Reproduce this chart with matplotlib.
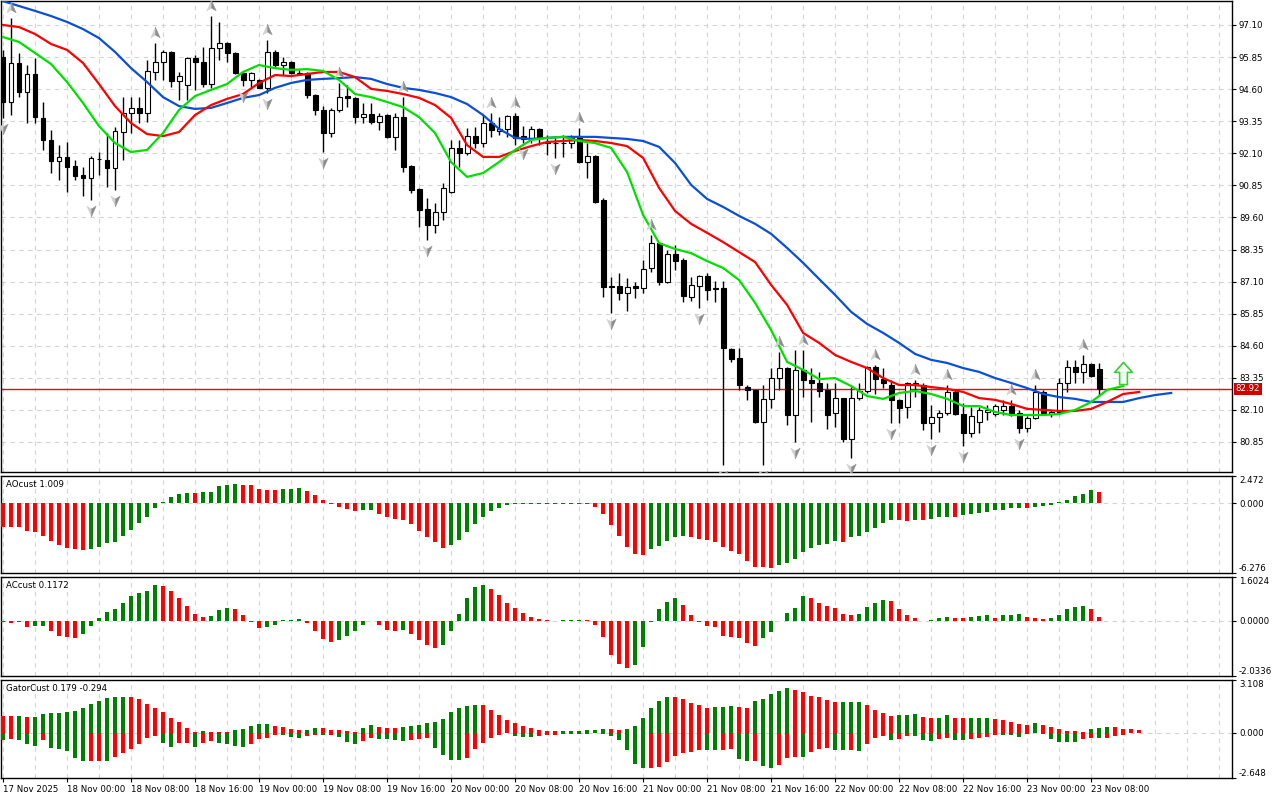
import matplotlib
matplotlib.use('agg')
import numpy as np
import matplotlib.pyplot as plt
from matplotlib.path import Path
from matplotlib.transforms import offset_copy

# H1 свечи (O, H, L, C)
opens = [95.85, 94.10, 95.62, 94.49, 95.19, 93.48, 92.62, 91.80, 91.96, 91.61,
         91.25, 91.14, 91.86, 91.84, 91.53, 92.93, 93.67, 93.87, 93.67, 95.27,
         95.66, 96.05, 94.92, 94.76, 95.81, 95.66, 94.80, 96.20, 96.40, 96.01,
         95.23, 94.96, 94.96, 94.65, 96.05, 95.54, 95.66, 95.19, 95.23, 94.37,
         93.79, 92.89, 93.79, 94.33, 94.26, 93.51, 93.63, 93.32, 93.59, 92.74,
         93.51, 91.61, 90.71, 89.93, 89.31, 89.81, 90.59, 92.31, 92.11, 92.77,
         92.50, 93.28, 92.97, 93.05, 93.55, 92.77, 92.70, 93.05, 92.54, 92.50,
         92.50, 92.50, 92.70, 91.76, 91.99, 90.28, 86.93, 86.93, 86.66, 86.93,
         86.85, 87.63, 88.60, 87.08, 88.18, 87.94, 86.50, 86.93, 87.32, 86.85,
         86.85, 84.47, 84.12, 82.99, 82.88, 81.63, 82.53, 83.34, 83.73, 81.90,
         83.66, 83.27, 83.15, 82.88, 81.98, 82.56, 80.97, 82.56, 82.84, 83.77,
         83.30, 83.07, 82.49, 82.21, 83.07, 83.07, 81.59, 81.82, 81.98, 82.80,
         81.94, 81.20, 81.63, 82.02, 81.94, 82.10, 82.25, 81.98, 81.40, 81.79,
         82.80, 81.94, 82.02, 83.15, 83.77, 83.58, 83.89, 83.70]
highs = [96.13, 97.37, 96.01, 95.54, 95.81, 94.10, 93.01, 92.42, 92.54, 91.84,
         91.57, 92.00, 92.15, 92.89, 93.13, 94.29, 94.29, 94.29, 95.74, 96.40,
         96.13, 96.09, 95.27, 95.85, 95.93, 96.24, 97.45, 97.22, 96.44, 96.05,
         95.27, 95.27, 95.00, 96.52, 96.13, 95.85, 95.70, 95.35, 95.27, 94.41,
         93.94, 93.87, 94.84, 94.76, 94.30, 94.06, 94.06, 93.67, 93.62, 93.67,
         94.29, 91.64, 90.74, 90.36, 90.16, 90.94, 92.62, 92.62, 93.09, 93.13,
         93.59, 93.67, 93.51, 93.59, 93.67, 93.16, 93.16, 93.08, 92.81, 92.70,
         92.81, 92.81, 93.09, 92.50, 92.03, 90.36, 87.28, 87.44, 87.24, 87.09,
         87.94, 88.92, 88.64, 88.33, 88.53, 88.02, 87.28, 87.36, 87.44, 87.12,
         87.12, 84.50, 84.51, 83.07, 82.90, 83.07, 83.73, 84.36, 83.76, 84.43,
         84.43, 83.73, 83.58, 83.15, 83.15, 82.58, 82.99, 83.15, 83.81, 83.85,
         83.73, 83.27, 82.51, 83.19, 83.27, 83.15, 82.29, 82.10, 83.07, 82.92,
         82.37, 82.21, 82.21, 82.29, 82.33, 82.49, 82.49, 82.10, 81.86, 83.07,
         82.88, 82.10, 83.34, 84.05, 84.05, 84.24, 83.93, 83.93]
lows = [93.48, 93.60, 94.29, 93.28, 93.28, 92.23, 91.33, 91.06, 90.59, 91.06,
        90.44, 90.28, 91.25, 90.79, 90.67, 91.84, 92.89, 93.28, 93.32, 94.96,
        94.96, 94.68, 94.18, 94.18, 94.57, 94.68, 94.65, 95.74, 95.66, 95.19,
        94.72, 94.68, 94.65, 94.45, 95.46, 95.15, 95.19, 95.15, 94.26, 93.60,
        92.15, 92.74, 93.71, 93.90, 93.28, 93.28, 93.24, 93.01, 92.70, 92.23,
        91.37, 90.55, 89.23, 88.72, 88.99, 89.50, 90.55, 91.57, 92.03, 92.31,
        92.35, 92.74, 92.81, 92.74, 92.42, 92.50, 92.50, 92.42, 92.03, 91.92,
        91.96, 92.31, 91.72, 91.14, 90.16, 86.50, 85.88, 86.38, 85.95, 86.46,
        86.66, 87.47, 86.97, 87.05, 87.55, 86.31, 86.34, 86.07, 86.38, 86.31,
        79.95, 83.97, 82.88, 82.49, 81.59, 79.95, 82.17, 82.88, 81.51, 80.85,
        82.60, 81.63, 82.60, 81.36, 81.43, 80.85, 80.23, 82.49, 82.76, 82.72,
        82.95, 81.59, 81.59, 81.78, 82.60, 81.32, 80.97, 81.24, 81.90, 81.90,
        80.69, 81.05, 81.20, 81.71, 81.86, 81.90, 81.86, 81.20, 81.24, 81.76,
        81.90, 81.82, 81.94, 82.80, 83.15, 83.15, 83.38, 82.66]
closes = [94.10, 95.62, 94.49, 95.19, 93.51, 92.62, 91.80, 91.96, 91.57, 91.22,
          91.14, 91.92, 91.88, 91.53, 92.97, 93.67, 93.87, 93.67, 95.31, 95.66,
          96.05, 94.92, 95.11, 95.81, 95.66, 94.80, 96.20, 96.40, 96.01, 95.23,
          94.96, 95.23, 94.65, 96.05, 95.54, 95.66, 95.23, 95.23, 94.37, 93.79,
          92.89, 93.79, 94.29, 94.26, 93.51, 93.63, 93.32, 93.55, 92.74, 93.51,
          91.57, 90.67, 89.89, 89.31, 89.81, 90.75, 92.31, 92.11, 92.77, 92.50,
          93.28, 93.01, 93.05, 93.55, 92.70, 92.66, 93.05, 92.74, 92.50, 92.50,
          92.52, 92.70, 91.76, 91.99, 90.20, 86.89, 86.89, 86.66, 86.89, 86.85,
          87.59, 88.60, 87.08, 88.18, 87.90, 86.54, 86.97, 87.32, 86.77, 86.81,
          84.51, 84.08, 83.07, 82.88, 81.63, 82.53, 83.34, 83.73, 81.90, 83.66,
          83.27, 83.15, 82.84, 81.90, 82.56, 80.97, 82.56, 82.84, 83.77, 83.30,
          83.15, 82.49, 82.17, 83.15, 83.15, 81.59, 81.82, 81.98, 82.80, 81.94,
          81.20, 81.86, 82.10, 82.10, 82.25, 82.25, 81.90, 81.40, 81.79, 82.80,
          81.98, 82.02, 83.15, 83.77, 83.58, 83.89, 83.42, 82.92]
last_price = 82.92

# Alligator (значения через каждые 2 бара)
line_step = 2
jaw = [98.03, 97.84, 97.65, 97.45, 97.22, 96.94, 96.59, 96.05, 95.42, 94.88,
       94.29, 93.94, 93.83, 93.87, 94.06, 94.26, 94.37, 94.65, 94.84, 94.96,
       95.00, 95.03, 95.07, 95.00, 94.80, 94.65, 94.57, 94.45, 94.29, 94.02,
       93.59, 93.05, 92.70, 92.66, 92.70, 92.74, 92.74, 92.74, 92.70, 92.66,
       92.58, 92.35, 91.72, 90.87, 90.32, 90.01, 89.66, 89.35, 88.96, 88.41,
       87.83, 87.20, 86.58, 85.92, 85.45, 85.10, 84.71, 84.28, 84.05, 83.93,
       83.73, 83.58, 83.34, 83.15, 82.95, 82.72, 82.60, 82.53, 82.41, 82.41,
       82.41, 82.56, 82.68, 82.76]
teeth = [97.10, 97.02, 96.75, 96.36, 96.13, 95.62, 94.80, 93.94, 93.28, 92.85,
         92.77, 92.93, 93.59, 93.98, 94.22, 94.41, 94.84, 95.15, 95.11, 95.19,
         95.27, 95.27, 95.07, 94.61, 94.53, 94.41, 94.26, 93.98, 93.48, 92.42,
         91.96, 91.96, 92.19, 92.38, 92.54, 92.58, 92.62, 92.58, 92.50, 92.38,
         91.92, 90.75, 89.85, 89.35, 89.00, 88.64, 88.25, 87.86, 86.97, 86.19,
         85.10, 84.71, 84.24, 83.97, 83.73, 83.34, 83.07, 83.07, 82.99, 82.92,
         82.80, 82.56, 82.49, 82.33, 82.14, 82.10, 82.06, 82.06, 82.14, 82.41,
         82.72, 82.80]
lips = [96.63, 96.44, 96.01, 95.58, 94.88, 94.06, 93.16, 92.50, 92.15, 92.23,
        92.89, 93.79, 94.33, 94.57, 94.80, 95.27, 95.54, 95.42, 95.35, 95.38,
        95.31, 94.96, 94.41, 94.29, 94.10, 93.90, 93.51, 92.89, 91.76, 91.18,
        91.33, 91.76, 92.23, 92.62, 92.70, 92.74, 92.58, 92.50, 92.31, 91.37,
        89.70, 88.60, 88.37, 88.21, 87.90, 87.63, 87.16, 86.27, 85.21, 83.97,
        83.66, 83.30, 83.34, 83.03, 82.64, 82.53, 82.76, 82.84, 82.72, 82.53,
        82.25, 82.25, 82.02, 81.90, 81.90, 81.90, 81.94, 82.10, 82.41, 82.88,
        83.03]

# фракталы (номера баров)
fractal_up = [1, 19, 26, 33, 42, 50, 61, 64, 72, 81, 97, 100, 109, 114, 118, 126, 129, 135]
fractal_down = [0, 11, 14, 30, 33, 40, 53, 65, 69, 76, 87, 90, 95, 99, 106, 111, 116, 120, 127]
signal_bar = [140]
signal_price = [83.54]

# AO
ao = [-2.14, -2.15, -2.16, -2.45, -2.60, -2.97, -3.37, -3.73, -3.98, -4.13,
      -4.19, -4.07, -3.92, -3.61, -3.46, -2.97, -2.36, -1.77, -1.22, -0.37,
      0.09, 0.61, 0.83, 0.95, 0.93, 1.01, 1.07, 1.53, 1.68, 1.77,
      1.68, 1.62, 1.32, 1.22, 1.20, 1.30, 1.33, 1.35, 1.16, 0.77,
      0.31, -0.09, -0.31, -0.52, -0.70, -0.61, -0.60, -0.92, -1.22, -1.38,
      -1.53, -1.90, -2.51, -3.06, -3.52, -3.98, -3.76, -3.27, -2.60, -1.84,
      -1.22, -0.70, -0.37, -0.18, -0.09, -0.06, -0.05, -0.04, -0.06, -0.08,
      -0.07, -0.06, -0.07, -0.09, -0.31, -0.98, -1.99, -2.95, -3.90, -4.60,
      -4.66, -4.12, -3.88, -3.41, -3.01, -2.95, -3.01, -3.19, -3.26, -3.47,
      -3.97, -4.25, -4.56, -5.18, -5.74, -5.75, -5.83, -5.58, -5.33, -5.05,
      -4.34, -4.03, -3.72, -3.66, -3.41, -3.45, -3.05, -2.98, -2.60, -2.20,
      -1.80, -1.48, -1.50, -1.55, -1.46, -1.50, -1.40, -1.24, -1.22, -1.25,
      -1.02, -0.93, -0.87, -0.80, -0.62, -0.56, -0.42, -0.38, -0.40, -0.31,
      -0.25, -0.16, 0.16, 0.31, 0.68, 0.87, 1.18, 1.009]

# AC
ac = [-0.04, -0.07, -0.04, -0.22, -0.20, -0.18, -0.39, -0.56, -0.59, -0.62,
      -0.49, -0.18, 0.10, 0.33, 0.43, 0.65, 0.90, 1.01, 1.10, 1.31,
      1.27, 1.10, 0.83, 0.54, 0.24, 0.15, 0.16, 0.40, 0.47, 0.44,
      0.21, -0.04, -0.26, -0.22, -0.15, 0.01, 0.02, 0.05, -0.07, -0.37,
      -0.66, -0.77, -0.70, -0.56, -0.37, -0.15, 0.00, -0.16, -0.34, -0.37,
      -0.33, -0.48, -0.71, -0.89, -0.99, -0.90, -0.37, 0.24, 0.83, 1.25,
      1.31, 1.16, 0.94, 0.65, 0.47, 0.27, 0.13, 0.06, 0.03, -0.01,
      0.01, 0.02, 0.03, 0.01, -0.15, -0.61, -1.26, -1.58, -1.73, -1.62,
      -0.97, -0.05, 0.41, 0.70, 0.83, 0.56, 0.19, -0.06, -0.19, -0.25,
      -0.56, -0.60, -0.65, -0.82, -0.93, -0.65, -0.40, -0.02, 0.29, 0.45,
      0.89, 0.83, 0.66, 0.54, 0.48, 0.26, 0.19, 0.26, 0.51, 0.66,
      0.75, 0.73, 0.41, 0.19, 0.10, -0.03, 0.04, 0.08, 0.14, 0.10,
      0.08, 0.14, 0.18, 0.19, 0.10, 0.21, 0.22, 0.25, 0.15, 0.08,
      0.07, 0.09, 0.19, 0.41, 0.51, 0.54, 0.41, 0.1172]

# Gator
gator_up = [1.00, 0.97, 0.99, 0.93, 0.95, 1.12, 1.16, 1.17, 1.22, 1.26,
            1.45, 1.69, 1.90, 2.03, 2.09, 2.13, 2.09, 1.98, 1.69, 1.49,
            1.20, 0.87, 0.64, 0.29, 0.04, 0.12, 0.08, 0.07, 0.06, 0.15,
            0.25, 0.39, 0.52, 0.53, 0.39, 0.33, 0.25, 0.19, 0.20, 0.29,
            0.27, 0.19, 0.15, 0.13, 0.06, 0.29, 0.48, 0.33, 0.31, 0.29,
            0.35, 0.43, 0.48, 0.58, 0.64, 0.81, 1.20, 1.49, 1.59, 1.65,
            1.64, 1.36, 1.07, 0.74, 0.58, 0.43, 0.29, 0.15, 0.10, 0.09,
            0.10, 0.11, 0.12, 0.15, 0.19, 0.23, 0.22, 0.19, 0.22, 0.39,
            0.88, 1.46, 1.85, 2.11, 2.10, 2.01, 1.76, 1.62, 1.46, 1.52,
            1.53, 1.56, 1.50, 1.49, 1.89, 2.01, 2.28, 2.44, 2.63, 2.53,
            2.38, 2.18, 2.09, 1.95, 1.79, 1.80, 1.81, 1.82, 1.66, 1.36,
            1.17, 0.97, 1.03, 1.04, 1.11, 0.92, 0.88, 0.90, 1.03, 0.88,
            0.87, 0.88, 0.89, 0.90, 0.82, 0.74, 0.64, 0.55, 0.49, 0.58,
            0.49, 0.35, 0.25, 0.14, 0.10, 0.08, 0.25, 0.29, 0.35, 0.32,
            0.25, 0.21, 0.179]
gator_down = [-0.43, -0.33, -0.39, -0.68, -0.74, -0.39, -0.87, -0.93, -1.07, -1.45,
              -1.65, -1.64, -1.63, -1.66, -1.40, -1.16, -0.97, -0.68, -0.29, -0.19,
              -0.58, -0.83, -0.60, -0.58, -0.81, -0.58, -0.48, -0.58, -0.64, -0.78,
              -0.83, -0.68, -0.33, -0.32, -0.14, -0.15, -0.25, -0.29, -0.19, -0.10,
              -0.11, -0.10, -0.23, -0.54, -0.68, -0.45, -0.29, -0.35, -0.37, -0.39,
              -0.45, -0.40, -0.35, -0.30, -0.87, -1.32, -1.61, -1.62, -1.45, -0.97,
              -0.58, -0.29, -0.14, -0.02, -0.16, -0.25, -0.26, -0.19, -0.10, -0.10,
              -0.06, -0.07, -0.04, -0.05, -0.01, -0.04, -0.16, -0.39, -1.03, -1.85,
              -2.09, -2.08, -2.01, -1.72, -1.33, -1.17, -1.13, -0.98, -0.99, -1.01,
              -1.00, -0.94, -1.52, -1.66, -1.65, -1.95, -2.09, -1.91, -1.50, -1.40,
              -1.42, -1.11, -0.92, -0.91, -0.98, -1.03, -1.02, -1.04, -0.68, -0.29,
              -0.19, -0.43, -0.35, -0.19, -0.20, -0.43, -0.49, -0.35, -0.29, -0.39,
              -0.43, -0.35, -0.29, -0.23, -0.10, -0.13, -0.15, -0.23, -0.05, -0.03,
              -0.05, -0.33, -0.53, -0.55, -0.56, -0.33, -0.29, -0.30, -0.294, -0.20,
              -0.15]

time_labels = ['17 Nov 2025', '18 Nov 00:00', '18 Nov 08:00', '18 Nov 16:00',
               '19 Nov 00:00', '19 Nov 08:00', '19 Nov 16:00', '20 Nov 00:00',
               '20 Nov 08:00', '20 Nov 16:00', '21 Nov 00:00', '21 Nov 08:00',
               '21 Nov 16:00', '22 Nov 00:00', '22 Nov 08:00', '22 Nov 16:00',
               '23 Nov 00:00', '23 Nov 08:00']
bars_per_label = 8

price_ticks = [80.85, 82.10, 83.35, 84.60, 85.85, 87.10, 88.35, 89.60,
               90.85, 92.10, 93.35, 94.60, 95.85, 97.10]

GREEN = '#008000'
RED = '#ff0000'
GRID = '#d4d4d4'
FS = 6.2

W, H = 1280, 800
fig = plt.figure(figsize=(12.8, 8), dpi=100)


def panel(top, bottom):
    a = fig.add_axes([1 / W, 1 - bottom / H, 1231 / W, (bottom - top) / H])
    a.set_xlim(-0.25, 153.6)
    for x in range(0, 154, 4):
        a.axvline(x, color=GRID, lw=0.8, ls=(0, (4, 4)), zorder=0)
    for s in a.spines.values():
        s.set_linewidth(1.0)
        s.set_color('black')
    a.yaxis.tick_right()
    a.tick_params(axis='y', length=3, width=0.8, pad=2, labelsize=FS)
    a.tick_params(axis='x', length=0, labelbottom=False)
    return a


ax = panel(1, 472)
ax_ao = panel(476, 573)
ax_ac = panel(577, 676)
ax_gt = panel(680, 778)

# ---- главный график ----
o, h, l, c = map(np.array, (opens, highs, lows, closes))
idx = np.arange(len(o))
bull = c >= o
ax.vlines(idx, l, h, color='black', lw=1.0, zorder=3)
ax.bar(idx, np.maximum(np.abs(c - o), 0.012), bottom=np.minimum(o, c), width=0.62,
       color=np.where(bull, 'white', 'black'), edgecolor='black', lw=0.8, zorder=4)

ax.plot(np.arange(len(jaw)) * line_step, jaw, color='#0a4fd8', lw=1.6, zorder=5)
ax.plot(np.arange(len(teeth)) * line_step, teeth, color='#ff0000', lw=1.6, zorder=5)
ax.plot(np.arange(len(lips)) * line_step, lips, color='#00e000', lw=1.6, zorder=5)

for y in price_ticks:
    ax.axhline(y, color=GRID, lw=0.8, ls=(0, (4, 4)), zorder=0)
ax.axhline(last_price, color='#ff0000', lw=1.0, zorder=2)

# фракталы: двухцветные стрелки
up_l = Path([(0, 1), (-0.75, -0.7), (0, -0.25), (0, 1)])
up_r = Path([(0, 1), (0.75, -0.7), (0, -0.25), (0, 1)])
dn_l = Path([(0, -1), (-0.75, 0.7), (0, 0.25), (0, -1)])
dn_r = Path([(0, -1), (0.75, 0.7), (0, 0.25), (0, -1)])
tr_up = offset_copy(ax.transData, fig=fig, y=10, units='dots')
tr_dn = offset_copy(ax.transData, fig=fig, y=-10, units='dots')
fu = np.array(fractal_up)
fd = np.array(fractal_down)
for mk, col in ((up_l, '#d0d0d0'), (up_r, '#8c8c8c')):
    ax.plot(fu, h[fu], ls='none', marker=mk, ms=9, mfc=col, mec=col, mew=0.3,
            transform=tr_up, zorder=6, clip_on=True)
for mk, col in ((dn_l, '#d0d0d0'), (dn_r, '#8c8c8c')):
    ax.plot(fd, l[fd], ls='none', marker=mk, ms=9, mfc=col, mec=col, mew=0.3,
            transform=tr_dn, zorder=6, clip_on=True)

arrow = Path([(0, 1), (0.8, 0.1), (0.35, 0.1), (0.35, -1), (-0.35, -1),
              (-0.35, 0.1), (-0.8, 0.1), (0, 1)])
ax.plot(signal_bar, signal_price, ls='none', marker=arrow, ms=16, mfc='#f4fff4',
        mec='#3ccc3c', mew=1.2, zorder=7)

ax.set_ylim(79.68, 98.035)
ax.set_yticks(price_ticks)
ax.set_yticklabels(['%.2f' % v for v in price_ticks])
ax.text(1.003, last_price, '%.2f' % last_price, transform=ax.get_yaxis_transform(),
        ha='left', va='center', color='white', fontsize=FS,
        bbox=dict(boxstyle='square,pad=0.2', fc='#d00000', ec='none'), clip_on=False)


def colors_from(vals, first, use_abs=False):
    v = np.abs(vals) if use_abs else np.asarray(vals)
    cols = [first]
    for a, b in zip(v[:-1], v[1:]):
        cols.append(GREEN if b > a else RED)
    return cols


def sub_ticks(a, lo, hi, fmt):
    a.set_ylim(lo, hi)
    a.axhline(0, color=GRID, lw=0.8, ls=(0, (4, 4)), zorder=0)
    a.set_yticks([lo, 0, hi])
    a.set_yticklabels([fmt % lo, fmt % 0, fmt % hi])
    lbl = a.get_yticklabels()
    lbl[0].set_va('bottom')
    lbl[2].set_va('top')


# ---- AO ----
ax_ao.bar(np.arange(len(ao)), ao, width=0.5, color=colors_from(ao, RED), zorder=3)
sub_ticks(ax_ao, -6.276, 2.472, '%.3f')
ax_ao.text(0.004, 0.955, 'AOcust 1.009', transform=ax_ao.transAxes, va='top', fontsize=FS)

# ---- AC ----
ax_ac.bar(np.arange(len(ac)), ac, width=0.5, color=colors_from(ac, RED), zorder=3)
sub_ticks(ax_ac, -2.0336, 1.6024, '%.4f')
ax_ac.text(0.004, 0.955, 'ACcust 0.1172', transform=ax_ac.transAxes, va='top', fontsize=FS)

# ---- Gator ----
ax_gt.bar(np.arange(len(gator_up)), gator_up, width=0.5,
          color=colors_from(gator_up, RED), zorder=3)
ax_gt.bar(np.arange(len(gator_down)), gator_down, width=0.5,
          color=colors_from(gator_down, GREEN, use_abs=True), zorder=3)
sub_ticks(ax_gt, -2.648, 3.108, '%.3f')
ax_gt.text(0.004, 0.955, 'GatorCust 0.179 -0.294', transform=ax_gt.transAxes,
           va='top', fontsize=FS)

ticks = np.arange(len(time_labels)) * bars_per_label
ax_gt.set_xticks(ticks)
ax_gt.set_xticklabels(time_labels, ha='left', fontsize=FS)
ax_gt.tick_params(axis='x', length=3, width=0.8, pad=2, labelbottom=True, direction='out')

fig.savefig('out.png', dpi=100, facecolor='white')
